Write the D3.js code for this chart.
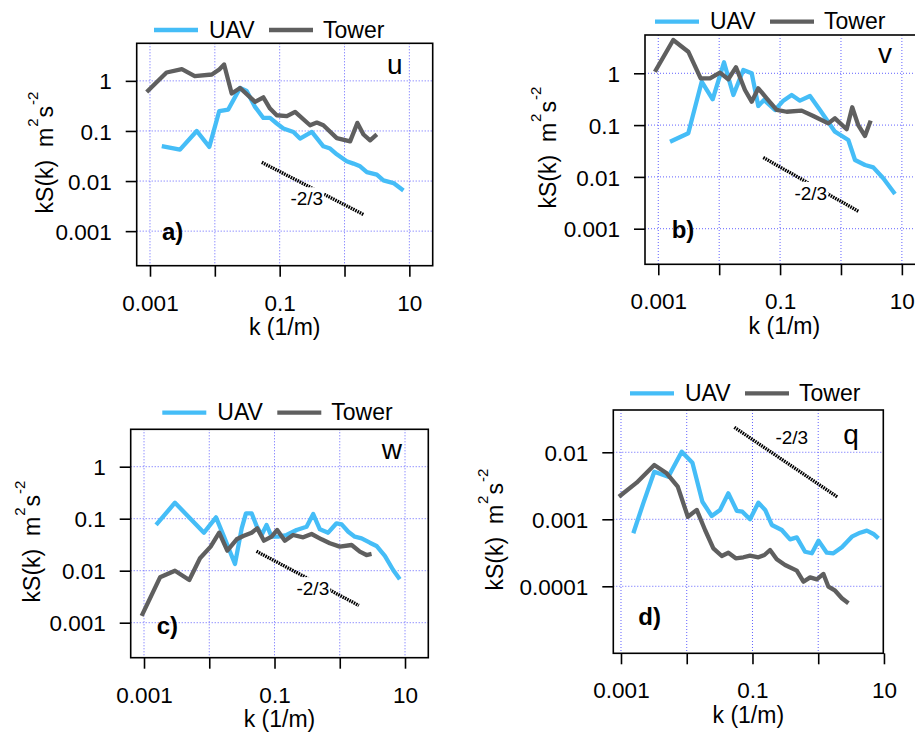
<!DOCTYPE html>
<html><head><meta charset="utf-8">
<script src="https://cdn.jsdelivr.net/npm/d3@7"></script>
<style>
body{margin:0;background:#fff}
svg{display:block}
text{font-family:"Liberation Sans",Arial,Helvetica,sans-serif;fill:#000}
</style>
</head><body>
<svg id="chart" width="915" height="733"></svg>
<script>
// ---------------- DATA ----------------
// panel a) u
const kUavU   = [0.00152,0.0029,0.00526,0.00822,0.0117,0.0161,0.0245,0.031,0.0417,0.056,0.0711,0.0902,0.114,0.163,0.206,0.313,0.472,0.6,0.76,1.08,1.37,1.74,2.21,3.15,3.98,5.69,8.1];
const sUavU   = [0.05,0.0425,0.1,0.048,0.25,0.268,0.724,0.63,0.302,0.182,0.182,0.141,0.112,0.0955,0.0705,0.0955,0.0494,0.0445,0.0342,0.0248,0.0223,0.0197,0.0151,0.0134,0.0103,0.0091,0.0065];
const kTowerU = [0.00089,0.0018,0.0031,0.0049,0.009,0.0117,0.0139,0.0182,0.0245,0.0417,0.056,0.071,0.09,0.129,0.173,0.294,0.374,0.472,0.76,1.22,1.58,1.96,2.48,3.15];
const sTowerU = [0.60,1.47,1.71,1.24,1.34,1.69,2.13,0.56,0.72,0.38,0.47,0.28,0.206,0.197,0.24,0.13,0.147,0.13,0.072,0.062,0.145,0.085,0.065,0.085];
// panel b) v
const kUavV   = [0.00156,0.00311,0.00516,0.00782,0.012,0.0171,0.0249,0.0342,0.0439,0.0544,0.0824,0.113,0.155,0.212,0.31,0.452,0.796,1.32,1.7,2.48,3.39,4.95,7.71];
const sUavV   = [0.0478,0.0695,0.689,0.315,1.63,0.381,1.16,1.0,0.234,0.305,0.196,0.296,0.381,0.296,0.365,0.196,0.0746,0.0515,0.0212,0.017,0.0153,0.0094,0.00468];
const kTowerV = [0.00088,0.00176,0.00311,0.00497,0.00706,0.0103,0.0141,0.0189,0.0265,0.0342,0.0439,0.0603,0.0879,0.128,0.226,0.351,0.618,0.797,1.24,1.53,1.92,2.48,3.07];
const sTowerV = [1.07,4.4,2.61,0.8,0.8,1.03,0.766,1.31,0.476,0.283,0.513,0.329,0.196,0.181,0.19,0.15,0.108,0.135,0.083,0.221,0.1,0.0616,0.122];
// panel c) w
const kUavW   = [0.00153,0.00298,0.00506,0.0083,0.0127,0.0168,0.0208,0.0248,0.0314,0.0365,0.0446,0.0532,0.0634,0.0756,0.0903,0.114,0.153,0.218,0.31,0.392,0.496,0.664,0.892,1.07,1.35,1.7,2.16,2.89,3.66,4.91,6.58,8.32];
const sUavW   = [0.0757,0.203,0.102,0.0538,0.106,0.0451,0.0232,0.0135,0.0653,0.127,0.127,0.0724,0.0486,0.0757,0.0451,0.0451,0.0486,0.0607,0.0702,0.123,0.0625,0.0538,0.0816,0.078,0.0562,0.0451,0.042,0.0345,0.0299,0.0192,0.0103,0.00684];
const kTowerW = [0.00092,0.00176,0.00298,0.00494,0.00721,0.0105,0.0142,0.0189,0.0263,0.0332,0.0446,0.0543,0.0689,0.0903,0.11,0.144,0.193,0.275,0.37,0.526,0.705,1.0,1.52,2.03,2.57,3.07];
const sTowerW = [0.00135,0.00746,0.01,0.00662,0.0173,0.029,0.0538,0.0243,0.0402,0.0465,0.0538,0.0653,0.0378,0.0451,0.0607,0.0378,0.0486,0.0439,0.0508,0.0402,0.0337,0.029,0.0312,0.0232,0.02,0.021];
// panel d) q
const kUavQ   = [0.00154,0.00218,0.00321,0.00525,0.0084,0.0122,0.0173,0.024,0.0321,0.043,0.0577,0.0702,0.0918,0.123,0.156,0.197,0.279,0.373,0.472,0.631,0.8,1.01,1.35,1.7,2.29,3.25,4.34,5.5,6.92,8.24];
const sUavQ   = [0.000618,0.00173,0.00513,0.00432,0.0102,0.007,0.00183,0.00112,0.00138,0.00244,0.00134,0.0013,0.001,0.00177,0.00138,0.000822,0.000692,0.000502,0.000538,0.000328,0.000311,0.00048,0.000317,0.000311,0.000382,0.00055,0.000631,0.000676,0.000604,0.00052];
const kTowerQ = [0.00093,0.00173,0.00321,0.00496,0.0073,0.0104,0.0142,0.019,0.0254,0.0341,0.043,0.0557,0.0727,0.0918,0.123,0.152,0.185,0.234,0.313,0.472,0.596,0.753,0.953,1.2,1.43,1.81,2.29,2.88];
const sTowerQ = [0.00217,0.00352,0.00645,0.00486,0.00307,0.00109,0.00138,0.000692,0.000369,0.000283,0.000317,0.000262,0.000271,0.000287,0.000271,0.000293,0.000348,0.000253,0.000208,0.000171,0.000117,0.000136,0.000127,0.000153,0.0000986,0.0000859,0.0000662,0.0000557];
// -2/3 reference slope line
const kRef = [0.053, 1.96];
const sRef = [0.0236, 0.00215];
const refLabel = "-2/3";
// ticks
const xTicks = [0.001, 0.01, 0.1, 1, 10];
const xTickLabels = ["0.001", "", "0.1", "", "10"];
const yTicksVel = [0.001, 0.01, 0.1, 1];
const yTickLabelsVel = ["0.001", "0.01", "0.1", "1"];
const yTicksQ = [0.0001, 0.001, 0.01];
const yTickLabelsQ = ["0.0001", "0.001", "0.01"];
const seriesNames = ["UAV", "Tower"];
const panelVars = ["u", "v", "w", "q"];
const panelTags = ["a)", "b)", "c)", "d)"];

// ---------------- LAYOUT / STYLE ----------------
const colUav = "#45bdf7", colTower = "#5f5f5f", gridCol = "#6262ff";
const layouts = [
  {box:[136.7,43.3,432.7,265.7], xd:[-3.205,1.36], yd:[-3.69,0.75], leg:[154,30], var:[387,74], tag:[162,239.5], ref:[0.262,0.0045,true], ytitle:-83.4, yt:yTicksVel, ytl:yTickLabelsVel},
  {box:[645,35,923.8,264.3], xd:[-3.218,1.36], yd:[-3.687,0.739], leg:[655,21.7], var:[878,63], tag:[671.7,238], ref:[0.319,0.00489,true], ytitle:-89, yt:yTicksVel, ytl:yTickLabelsVel},
  {box:[130.7,429.3,428.3,657.7], xd:[-3.204,1.357], yd:[-3.673,0.719], leg:[162.3,412.7], var:[381.7,459], tag:[156.7,633.5], ref:[0.387,0.00459,true], ytitle:-90.7, yt:yTicksVel, ytl:yTickLabelsVel},
  {box:[613.3,410,883.3,653.3], xd:[-3.117,0.99], yd:[-5,-1.369], leg:[630,393.3], var:[843.3,444], tag:[638.3,625], ref:[0.396,0.0169,false], ytitle:-110, yt:yTicksQ, ytl:yTickLabelsQ}
];
const seriesData = [
  [[kUavU,sUavU],[kTowerU,sTowerU]],
  [[kUavV,sUavV],[kTowerV,sTowerV]],
  [[kUavW,sUavW],[kTowerW,sTowerW]],
  [[kUavQ,sUavQ],[kTowerQ,sTowerQ]]
];
const colors = [colUav, colTower];

const svg = d3.select("#chart");
svg.append("rect").attr("width",915).attr("height",733).attr("fill","#fff");

layouts.forEach((L, i) => {
  const [x0,y0,x1,y1] = L.box;
  const g = svg.append("g");
  const x = d3.scaleLog().domain([Math.pow(10,L.xd[0]), Math.pow(10,L.xd[1])]).range([x0,x1]);
  const y = d3.scaleLog().domain([Math.pow(10,L.yd[0]), Math.pow(10,L.yd[1])]).range([y1,y0]);

  // grid
  g.append("g").selectAll("line").data(xTicks.filter(v => x(v) >= x0 && x(v) <= x1)).join("line")
    .attr("x1", d => x(d)).attr("x2", d => x(d)).attr("y1", y0).attr("y2", y1)
    .attr("stroke", gridCol).attr("stroke-width", 1).attr("stroke-dasharray", "1,2");
  g.append("g").selectAll("line").data(L.yt).join("line")
    .attr("y1", d => y(d)).attr("y2", d => y(d)).attr("x1", x0).attr("x2", x1)
    .attr("stroke", gridCol).attr("stroke-width", 1).attr("stroke-dasharray", "1,2");

  // series
  const line = d3.line().x(d => x(d[0])).y(d => y(d[1]));
  seriesData[i].forEach((s, j) => {
    const pts = s[0].map((k, n) => [k, s[1][n]]);
    g.append("path").datum(pts).attr("d", line).attr("fill","none")
      .attr("stroke", colors[j]).attr("stroke-width", 4.3)
      .attr("stroke-linejoin","round").attr("stroke-linecap","butt");
  });

  // reference -2/3 line
  g.append("line")
    .attr("x1", x(kRef[0])).attr("y1", y(sRef[0])).attr("x2", x(kRef[1])).attr("y2", y(sRef[1]))
    .attr("stroke","#000").attr("stroke-width",3.4).attr("stroke-dasharray","1.6,0.9");
  const rt = g.append("text").attr("x", x(L.ref[0])).attr("y", y(L.ref[1])).attr("dy","0.36em")
    .attr("text-anchor","middle").attr("font-size", 19).text(refLabel);
  if (L.ref[2]) {
    const bb = rt.node().getBBox();
    g.insert("rect", () => rt.node()).attr("x", bb.x).attr("y", bb.y-1).attr("width", bb.width+1).attr("height", bb.height-1).attr("fill","#fff");
  }

  // box
  g.append("rect").attr("x", x0).attr("y", y0).attr("width", x1-x0).attr("height", y1-y0)
    .attr("fill","none").attr("stroke","#000").attr("stroke-width",1.6);

  // axes
  const xa = d3.axisBottom(x).tickValues(xTicks.filter(v => x(v) >= x0 && x(v) <= x1 + 1))
    .tickFormat(v => xTickLabels[xTicks.indexOf(v)]).tickSize(11).tickSizeOuter(0);
  const gx = g.append("g").attr("transform", `translate(0,${y1})`).call(xa);
  gx.select(".domain").remove();
  gx.selectAll(".tick line").attr("stroke","#000").attr("stroke-width",1.6);
  gx.selectAll(".tick text").attr("y", 45).attr("dy", 0).attr("font-size", 22.5)
    .attr("font-family", '"Liberation Sans",Arial,sans-serif').attr("fill","#000");

  const ya = d3.axisLeft(y).tickValues(L.yt).tickFormat(v => L.ytl[L.yt.indexOf(v)])
    .tickSize(11).tickSizeOuter(0).tickPadding(14);
  const gy = g.append("g").attr("transform", `translate(${x0},0)`).call(ya);
  gy.select(".domain").remove();
  gy.selectAll(".tick line").attr("stroke","#000").attr("stroke-width",1.6);
  gy.selectAll(".tick text").attr("font-size", 22.5).attr("dy","0.36em")
    .attr("font-family", '"Liberation Sans",Arial,sans-serif').attr("fill","#000");

  // axis titles
  g.append("text").attr("x", (x0+x1)/2).attr("y", y1 + 69.5).attr("text-anchor","middle")
    .attr("font-size", 23).text("k (1/m)");
  const yt = g.append("text").attr("transform", `translate(${x0 + L.ytitle},${(y0+y1)/2 - 2}) rotate(-90)`)
    .attr("text-anchor","middle").attr("font-size", 23).style("white-space","pre");
  yt.append("tspan").text("kS(k)  m");
  yt.append("tspan").attr("dy", -15).attr("dx", 1).attr("font-size", 15).text("2");
  yt.append("tspan").attr("dy", 15).attr("dx", 1).text("s");
  yt.append("tspan").attr("dy", -15).attr("dx", 1).attr("font-size", 15).text("-2");

  // legend
  const [lx, ly] = L.leg;
  const legOff = [[0,44,55],[115,159,169]];
  seriesNames.forEach((nm, j) => {
    g.append("line").attr("x1", lx+legOff[j][0]).attr("x2", lx+legOff[j][1]).attr("y1", ly).attr("y2", ly)
      .attr("stroke", colors[j]).attr("stroke-width", 4.3);
    g.append("text").attr("x", lx+legOff[j][2]).attr("y", ly+7.5).attr("font-size", 23).text(nm);
  });

  // variable name and panel tag
  g.append("text").attr("x", L.var[0]).attr("y", L.var[1]).attr("font-size", 28).text(panelVars[i]);
  g.append("text").attr("x", L.tag[0]).attr("y", L.tag[1]).attr("font-size", 24).attr("font-weight","bold").text(panelTags[i]);
});
</script>
</body></html>
